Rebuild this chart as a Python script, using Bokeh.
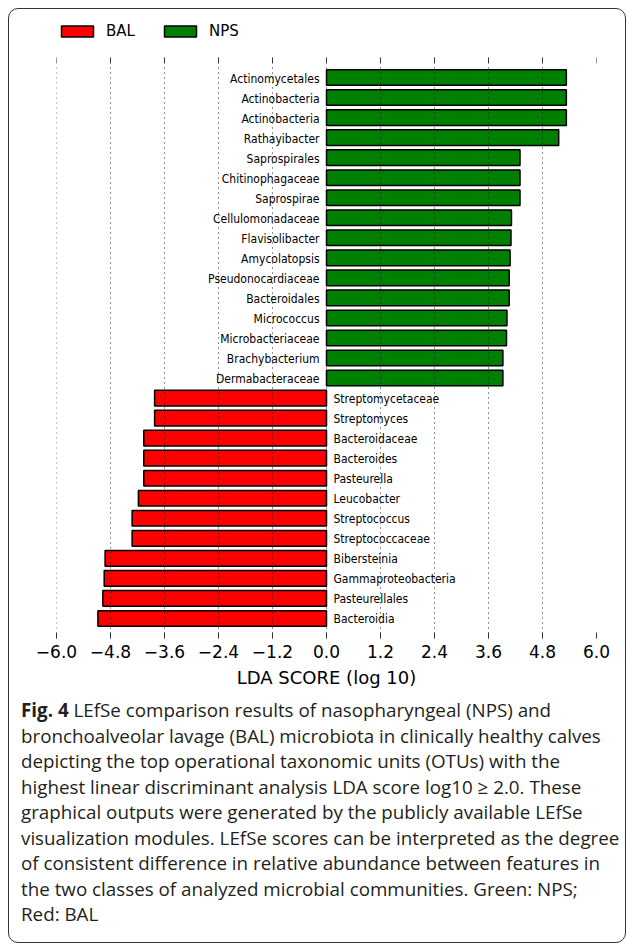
from bokeh.plotting import figure
from bokeh.models import (ColumnDataSource, FixedTicker, Range1d,
                          Legend, LegendItem, Div)
from bokeh.layouts import column
from bokeh.embed import file_html
from bokeh.resources import INLINE

# ---------------- data ----------------
nps_taxa = ["Actinomycetales", "Actinobacteria", "Actinobacteria", "Rathayibacter",
            "Saprospirales", "Chitinophagaceae", "Saprospirae", "Cellulomonadaceae",
            "Flavisolibacter", "Amycolatopsis", "Pseudonocardiaceae", "Bacteroidales",
            "Micrococcus", "Microbacteriaceae", "Brachybacterium", "Dermabacteraceae"]
nps_scores = [5.33, 5.33, 5.33, 5.16, 4.30, 4.30, 4.30, 4.11,
              4.10, 4.08, 4.06, 4.06, 4.01, 4.00, 3.92, 3.92]

bal_taxa = ["Streptomycetaceae", "Streptomyces", "Bacteroidaceae", "Bacteroides",
            "Pasteurella", "Leucobacter", "Streptococcus", "Streptococcaceae",
            "Bibersteinia", "Gammaproteobacteria", "Pasteurellales", "Bacteroidia"]
bal_scores = [-3.82, -3.82, -4.06, -4.06, -4.06, -4.18, -4.32, -4.32,
              -4.92, -4.94, -4.97, -5.08]

ticks = [-6.0, -4.8, -3.6, -2.4, -1.2, 0.0, 1.2, 2.4, 3.6, 4.8, 6.0]
tick_labels = ["\u22126.0", "\u22124.8", "\u22123.6", "\u22122.4", "\u22121.2", "0.0",
               "1.2", "2.4", "3.6", "4.8", "6.0"]
grid_ticks = ticks[:-1]

caption_lines = [
    "<b>Fig. 4</b> LEfSe comparison results of nasopharyngeal (NPS) and",
    "bronchoalveolar lavage (BAL) microbiota in clinically healthy calves",
    "depicting the top operational taxonomic units (OTUs) with the",
    "highest linear discriminant analysis LDA score log10 \u2265 2.0. These",
    "graphical outputs were generated by the publicly available LEfSe",
    "visualization modules. LEfSe scores can be interpreted as the degree",
    "of consistent difference in relative abundance between features in",
    "the two classes of analyzed microbial communities. Green: NPS;",
    "Red: BAL",
]

# ---------------- layout constants ----------------
row_px = 20.04      # pixel pitch of one bar row
head_px = 44        # room above the bar area for the legend
tick_px = 6         # length of the tick marks
n_total = len(nps_taxa) + len(bal_taxa)
y_lo = -1
y_bar_top = n_total                       # top edge of the bar area (tick row)
y_hi = y_bar_top + head_px / row_px
tick_len = tick_px / row_px

nps_y = [n_total - 1 - i for i in range(len(nps_taxa))]
bal_y = [n_total - 1 - len(nps_taxa) - i for i in range(len(bal_taxa))]

nps_src = ColumnDataSource(dict(y=nps_y, score=nps_scores, taxon=nps_taxa))
bal_src = ColumnDataSource(dict(y=bal_y, score=bal_scores, taxon=bal_taxa))
grid_src = ColumnDataSource(dict(x=grid_ticks,
                                 y0=[y_lo] * len(grid_ticks),
                                 y1=[y_bar_top - tick_len] * len(grid_ticks)))
tick_src = ColumnDataSource(dict(x=ticks,
                                 y0=[y_bar_top - tick_len] * len(ticks),
                                 y1=[y_bar_top] * len(ticks)))

p = figure(width=616, height=689,
           x_range=Range1d(-6, 6), y_range=Range1d(y_lo, y_hi),
           output_backend="svg", toolbar_location=None,
           y_axis_location=None,
           min_border_left=47, min_border_right=29,
           min_border_top=4, min_border_bottom=60)
p.margin = 0
p.outline_line_color = None
p.background_fill_alpha = 0
p.border_fill_alpha = 0
p.xgrid.visible = False
p.ygrid.visible = False

r_nps = p.hbar(y="y", left=0, right="score", height=0.78, source=nps_src,
               fill_color="#008000", line_color="black", line_width=1.5)
r_bal = p.hbar(y="y", left=0, right="score", height=0.78, source=bal_src,
               fill_color="#ff0000", line_color="black", line_width=1.5)

lab_font = "DejaVu Sans Condensed, DejaVu Sans"
p.text(x=0, y="y", text="taxon", source=nps_src, text_align="right",
       text_baseline="middle", x_offset=-7, y_offset=1,
       text_font_size="12px", text_font={"value": lab_font}, text_color="black")
p.text(x=0, y="y", text="taxon", source=bal_src, text_align="left",
       text_baseline="middle", x_offset=7, y_offset=1,
       text_font_size="12px", text_font={"value": lab_font}, text_color="black")

# dotted vertical guide lines over the bar area (drawn on top, as in the original)
p.segment(x0="x", y0="y0", x1="x", y1="y1", source=grid_src,
          line_color="#222222", line_width=1, line_dash="1 4")
# tick marks along the top of the bar area
p.segment(x0="x", y0="y0", x1="x", y1="y1", source=tick_src,
          line_color="#333333", line_width=1)

# bottom axis
ax = p.xaxis[0]
ax.ticker = FixedTicker(ticks=ticks)
ax.major_label_overrides = dict(zip(ticks, tick_labels))
ax.axis_line_color = None
ax.major_tick_in = tick_px
ax.major_tick_out = 0
ax.minor_tick_out = 0
ax.minor_tick_in = 0
ax.major_tick_line_color = "#333333"
ax.minor_tick_line_color = None
ax.major_label_text_font = "DejaVu Sans"
ax.major_label_text_font_size = "17px"
ax.major_label_text_color = "black"
ax.major_label_standoff = 6
ax.axis_label = "LDA SCORE (log 10)"
ax.axis_label_text_font = "DejaVu Sans"
ax.axis_label_text_font_size = "18px"
ax.axis_label_text_font_style = "normal"
ax.axis_label_text_color = "black"
ax.axis_label_standoff = 6

legend = Legend(items=[LegendItem(label="BAL", renderers=[r_bal]),
                       LegendItem(label="NPS", renderers=[r_nps])],
                orientation="horizontal", location=(1, 598),
                border_line_color=None, background_fill_alpha=0,
                glyph_width=40, glyph_height=14, label_standoff=9, spacing=25,
                padding=0, margin=0,
                label_text_font="DejaVu Sans", label_text_font_size="15px",
                label_text_color="black")
p.add_layout(legend, "center")

cap_html = ("<div style=\"font-family:'Open Sans';font-size:18.8px;line-height:25.5px;"
            "color:#231f20;padding-left:12px;white-space:nowrap;\">"
            + "<br>".join(caption_lines) + "</div>")
cap = Div(text=cap_html, width=616, height=244, margin=0)

layout = column(p, cap, margin=(8, 0, 0, 8),
                styles={"border": "1.5px solid #333333", "border-radius": "10px"})

open("out.html", "w").write(file_html(layout, INLINE))
